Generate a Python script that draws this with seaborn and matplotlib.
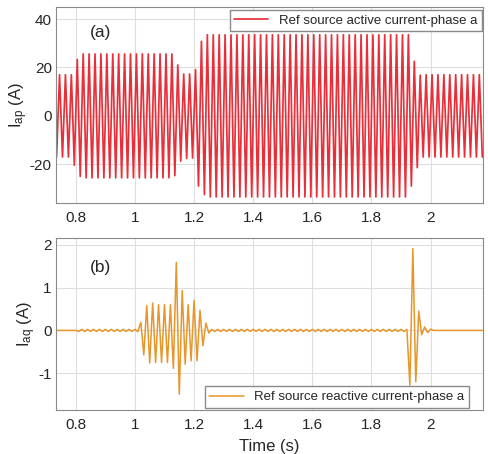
import numpy as np
import pandas as pd
import seaborn as sns
import matplotlib.pyplot as plt

# active current: half-cycle peaks (50 Hz), every 10 ms starting at 0.725 s
ap_t0 = 0.725
ap_peaks = ([17.0] * 7 + [20.4, 23.3, 25.0] + [25.6] * 31 +
            [24.7, 21.0, 18.7, 17.3, 17.6, 17.3, 17.4, 19.1, 29.0, 30.8, 32.5] +
            [33.5] * 69 + [29.0, 22.5, 21.4, 16.8] + [17.0] * 21)

# reactive current: signed half-cycle peaks, every 10 ms starting at 0.72 s
aq_t0 = 0.72
aq_peaks = ([0.0] * 9 + [-0.025, 0.025] * 10 +
            [-0.03, 0.19, -0.57, 0.58, -0.76, 0.64, -0.75, 0.60, -0.75, 0.60,
             -0.75, 0.60, -0.89, 1.59, -1.49, 0.93, -0.79, 0.60, -0.71, 0.70,
             -0.71, 0.47, -0.36, 0.17, -0.06] +
            [0.025, -0.025] * 33 +
            [0.02, -1.28, 1.91, -1.2, 0.45, -0.1, 0.08, -0.05, 0.03] +
            [0.0] * 18)

x_ticks = [0.8, 1.0, 1.2, 1.4, 1.6, 1.8, 2.0]
x_labels = ["0.8", "1", "1.2", "1.4", "1.6", "1.8", "2"]
ap_ticks = [-20, 0, 20, 40]
aq_ticks = [-1, 0, 1, 2]
aq_labels = ["-1", "0", "1", "2"]

n_ap = len(ap_peaks)
df_ap = pd.DataFrame({"t": np.round(ap_t0 + 0.01 * np.arange(n_ap), 3),
                      "I": [v if k % 2 == 0 else -v for k, v in enumerate(ap_peaks)]})
df_aq = pd.DataFrame({"t": np.round(aq_t0 + 0.01 * np.arange(len(aq_peaks)), 3),
                      "I": aq_peaks})

sns.set_theme(style="whitegrid")
plt.rcParams["font.family"] = ["Liberation Sans", "DejaVu Sans"]
plt.rcParams["mathtext.fontset"] = "custom"
plt.rcParams["mathtext.rm"] = "Liberation Sans"
plt.rcParams["mathtext.it"] = "Liberation Sans:italic"
plt.rcParams["axes.unicode_minus"] = False

fig = plt.figure(figsize=(4.89, 4.54), dpi=100)
ax1 = fig.add_axes([0.1145, 0.5529, 0.873, 0.4317])
ax2 = fig.add_axes([0.1145, 0.0969, 0.873, 0.379])

sns.lineplot(data=df_ap, x="t", y="I", ax=ax1, color="#E8303A", linewidth=1.25,
             solid_joinstyle="round", label="Ref source active current-phase a")
sns.lineplot(data=df_aq, x="t", y="I", ax=ax2, color="#E8952A", linewidth=1.1,
             solid_joinstyle="round", label="Ref source reactive current-phase a")

for ax in (ax1, ax2):
    ax.set_xlim(0.733, 2.177)
    ax.set_xticks(x_ticks)
    ax.set_xticklabels(x_labels)
    ax.grid(True, color="#dedede", linewidth=0.8)
    ax.tick_params(axis="both", labelsize=11, colors="#262626", length=0)
    ax.tick_params(axis="x", pad=6)
    ax.tick_params(axis="y", pad=3)
    for s in ax.spines.values():
        s.set_color("#8a8a8a")
        s.set_linewidth(0.8)

ax1.set_ylim(-36, 45)
ax1.set_yticks(ap_ticks)
ax1.set_xlabel("")
ax1.set_ylabel(r"I$_{\mathrm{ap}}$ (A)", fontsize=12, color="#262626", labelpad=0)
ax1.text(0.105, 0.872, "(a)", transform=ax1.transAxes, fontsize=12.5,
         ha="center", va="center", color="#262626")
ax1.legend(loc="upper right", bbox_to_anchor=(0.998, 0.985), borderaxespad=0,
           fontsize=9.5, fancybox=False, framealpha=1, edgecolor="#8a8a8a",
           handlelength=2.6, borderpad=0.35)

ax2.set_ylim(-1.86, 2.16)
ax2.set_yticks(aq_ticks)
ax2.set_yticklabels(aq_labels)
ax2.set_xlabel("Time (s)", fontsize=12, color="#262626", labelpad=5)
ax2.set_ylabel(r"I$_{\mathrm{aq}}$ (A)", fontsize=12, color="#262626", labelpad=0)
ax2.text(0.105, 0.827, "(b)", transform=ax2.transAxes, fontsize=12.5,
         ha="center", va="center", color="#262626")
ax2.legend(loc="lower right", bbox_to_anchor=(0.967, 0.012), borderaxespad=0,
           fontsize=9.5, fancybox=False, framealpha=1, edgecolor="#8a8a8a",
           handlelength=2.6, borderpad=0.35)

fig.savefig("out.png", dpi=100)
